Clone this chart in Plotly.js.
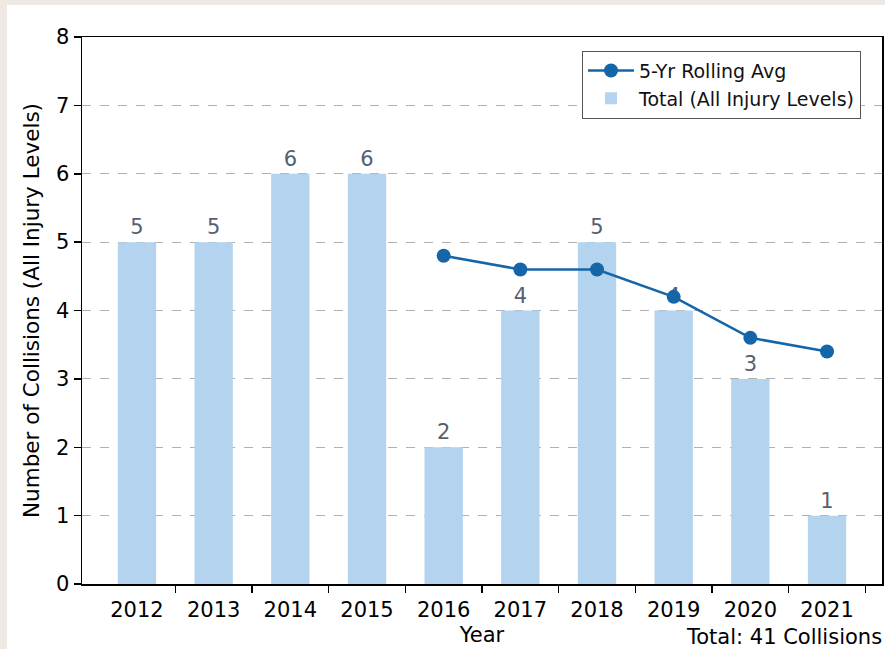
<!DOCTYPE html>
<html>
<head>
<meta charset="utf-8">
<script src="https://cdn.plot.ly/plotly-3.0.1.min.js"></script>
<style>
  html, body { margin: 0; padding: 0; width: 885px; height: 649px; background: #eeeae3; overflow: hidden; }
  #chart { position: absolute; left: 7px; top: 5px; width: 878px; height: 644px; background: #ffffff; }
</style>
</head>
<body>
<div id="chart"></div>
<script>
// ---- data ----
const years = [2012, 2013, 2014, 2015, 2016, 2017, 2018, 2019, 2020, 2021];
const totals = [5, 5, 6, 6, 2, 4, 5, 4, 3, 1];
const rollingYears = [2016, 2017, 2018, 2019, 2020, 2021];
const rollingAvg = [4.8, 4.6, 4.6, 4.2, 3.6, 3.4];
const yTicks = [0, 1, 2, 3, 4, 5, 6, 7, 8];
const totalLabel = 'Total: 41 Collisions';

const FONT = 'DejaVu Sans, Verdana, sans-serif';

const lineTrace = {
  type: 'scatter',
  mode: 'lines+markers',
  name: '5-Yr Rolling Avg',
  x: rollingYears,
  y: rollingAvg,
  line: { color: '#1565a9', width: 2.6 },
  marker: { color: '#1565a9', size: 14 },
  cliponaxis: false
};

const barTrace = {
  type: 'bar',
  name: 'Total (All Injury Levels)',
  x: years,
  y: totals,
  width: 0.5,
  marker: { color: '#b3d3ef', line: { width: 0 } },
  text: totals.map(String),
  texttemplate: '%{text}',
  textposition: 'outside',
  textfont: { family: FONT, size: 21, color: '#56606e' },
  cliponaxis: false
};

const layout = {
  width: 878,
  height: 644,
  margin: { l: 75, r: 3, t: 32, b: 65, pad: 0 },
  paper_bgcolor: '#ffffff',
  plot_bgcolor: '#ffffff',
  font: { family: FONT, size: 20, color: '#000000' },
  showlegend: true,
  legend: {
    x: 0.625, y: 0.975, xanchor: 'left', yanchor: 'top',
    bgcolor: '#ffffff', bordercolor: '#555555', borderwidth: 1,
    font: { family: FONT, size: 19, color: '#111111' },
    itemwidth: 46,
    traceorder: 'normal'
  },
  xaxis: {
    type: 'linear',
    range: [2011.283, 2021.717],
    tickmode: 'array',
    tickvals: years,
    ticktext: years.map(String),
    ticks: '',
    ticklabelstandoff: 6,
    tickfont: { family: FONT, size: 21, color: '#000000' },
    minor: {
      tickmode: 'array',
      tickvals: years.map(y => y + 0.5),
      ticks: 'outside', ticklen: 7, tickwidth: 1.5, tickcolor: '#000000',
      showgrid: false
    },
    showgrid: false,
    zeroline: false,
    showline: true, mirror: true, linecolor: '#000000', linewidth: 1.5,
    title: { text: 'Year', font: { family: FONT, size: 21, color: '#000000' }, standoff: 6 },
    fixedrange: true
  },
  yaxis: {
    range: [0, 8],
    tickmode: 'array',
    tickvals: yTicks,
    ticktext: yTicks.map(String),
    ticks: 'outside', ticklen: 7, tickwidth: 1.5, tickcolor: '#000000',
    tickfont: { family: FONT, size: 21, color: '#000000' },
    showgrid: true, gridcolor: '#b0b0b0', gridwidth: 1.2, griddash: 'dash',
    zeroline: false,
    showline: true, mirror: true, linecolor: '#000000', linewidth: 1.5,
    title: { text: 'Number of Collisions (All Injury Levels)', font: { family: FONT, size: 21.5, color: '#000000' }, standoff: 10 },
    fixedrange: true
  },
  annotations: [{
    text: totalLabel,
    xref: 'paper', yref: 'paper',
    x: 1.0, y: 0, xanchor: 'right', yanchor: 'top',
    yshift: -39,
    xshift: 2,
    showarrow: false,
    font: { family: FONT, size: 21, color: '#000000' }
  }]
};

Plotly.newPlot('chart', [lineTrace, barTrace], layout, { displayModeBar: false, staticPlot: true });
</script>
</body>
</html>
